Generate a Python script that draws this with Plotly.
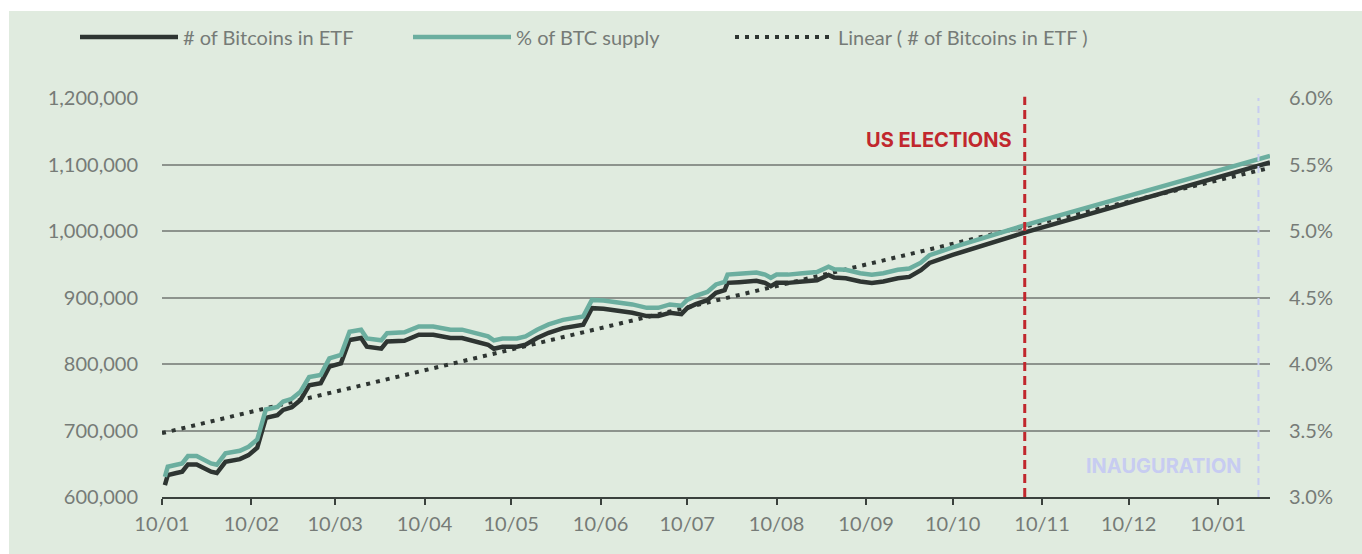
import plotly.graph_objects as go

# ---------------- data ----------------
dates = [
    "2024-01-11", "2024-01-12", "2024-01-15", "2024-01-17", "2024-01-19", "2024-01-22",
    "2024-01-27", "2024-01-29", "2024-02-01", "2024-02-06", "2024-02-09", "2024-02-12",
    "2024-02-15", "2024-02-19", "2024-02-21", "2024-02-24", "2024-02-27", "2024-03-01",
    "2024-03-05", "2024-03-08", "2024-03-12", "2024-03-15", "2024-03-19", "2024-03-21",
    "2024-03-26", "2024-03-28", "2024-04-03", "2024-04-08", "2024-04-13", "2024-04-19",
    "2024-04-23", "2024-04-28", "2024-05-02", "2024-05-04", "2024-05-07", "2024-05-12",
    "2024-05-15", "2024-05-19", "2024-05-23", "2024-05-28", "2024-06-02", "2024-06-04",
    "2024-06-07", "2024-06-11", "2024-06-16", "2024-06-21", "2024-06-26", "2024-06-30",
    "2024-07-04", "2024-07-08", "2024-07-10", "2024-07-13", "2024-07-17", "2024-07-20",
    "2024-07-23", "2024-07-24", "2024-07-28", "2024-08-03", "2024-08-06", "2024-08-08",
    "2024-08-10", "2024-08-14", "2024-08-19", "2024-08-24", "2024-08-28", "2024-08-30",
    "2024-09-03", "2024-09-08", "2024-09-12", "2024-09-16", "2024-09-21", "2024-09-25",
    "2024-09-29", "2024-10-02", "2024-10-10", "2024-11-05", "2025-01-28",
]

btc_in_etf = [
    618000, 633000, 636000, 638000, 649000, 649000,
    638000, 636000, 653000, 657000, 663000, 674000,
    719000, 723000, 731000, 735000, 746000, 768000,
    771000, 796000, 801000, 836000, 839000, 826000,
    823000, 834000, 835000, 844000, 844000, 839000,
    839000, 833000, 829000, 823000, 826000, 826000,
    829000, 839000, 847000, 854000, 857000, 859000,
    884000, 883000, 880000, 877000, 872000, 872000,
    877000, 875000, 884000, 890000, 896000, 907000,
    911000, 922000, 923000, 925000, 922000, 917000,
    922000, 922000, 924000, 926000, 934000, 930000,
    929000, 924000, 922000, 924000, 929000, 931000,
    941000, 952000, 964000, 999000, 1103000,
]

pct_btc_supply = [
    3.152, 3.228, 3.242, 3.252, 3.308, 3.308,
    3.252, 3.242, 3.328, 3.348, 3.378, 3.432,
    3.658, 3.678, 3.718, 3.738, 3.792, 3.902,
    3.918, 4.042, 4.068, 4.242, 4.258, 4.192,
    4.178, 4.232, 4.238, 4.282, 4.282, 4.258,
    4.258, 4.228, 4.208, 4.178, 4.192, 4.192,
    4.208, 4.258, 4.298, 4.332, 4.348, 4.358,
    4.482, 4.478, 4.462, 4.448, 4.422, 4.422,
    4.448, 4.438, 4.482, 4.512, 4.542, 4.598,
    4.618, 4.672, 4.678, 4.688, 4.672, 4.648,
    4.672, 4.672, 4.682, 4.692, 4.732, 4.712,
    4.708, 4.682, 4.672, 4.682, 4.708, 4.718,
    4.762, 4.818, 4.877, 5.050, 5.565,
]

trend_dates = ["2024-01-10", "2025-01-28"]
trend_values = [696000, 1095000]

tick_dates = [
    "2024-01-10", "2024-02-10", "2024-03-10", "2024-04-10", "2024-05-10", "2024-06-10",
    "2024-07-10", "2024-08-10", "2024-09-10", "2024-10-10", "2024-11-10", "2024-12-10",
    "2025-01-10",
]
tick_labels = ["10/01", "10/02", "10/03", "10/04", "10/05", "10/06", "10/07",
               "10/08", "10/09", "10/10", "10/11", "10/12", "10/01"]

y_left_ticks = [600000, 700000, 800000, 900000, 1000000, 1100000, 1200000]
y_right_ticks = [3.0, 3.5, 4.0, 4.5, 5.0, 5.5, 6.0]
y_right_labels = ["3.0%", "3.5%", "4.0%", "4.5%", "5.0%", "5.5%", "6.0%"]

election_date = "2024-11-04"
inauguration_date = "2025-01-24"
x_range = ["2024-01-10", "2025-01-28"]

# ---------------- style ----------------
BG = "#e0ebdf"
DARK = "#2e3532"
TEAL = "#6bae9f"
GRID = "#8d938d"
TXT = "#767b77"
RED = "#c1272d"
LAV = "#c7ccf1"
FONT = "Lato"
FS = 20

fig = go.Figure()
fig.add_trace(go.Scatter(
    x=dates, y=btc_in_etf, name="# of Bitcoins in ETF", mode="lines",
    line=dict(color=DARK, width=4.5), yaxis="y", legend="legend"))
fig.add_trace(go.Scatter(
    x=dates, y=pct_btc_supply, name="% of BTC supply", mode="lines",
    line=dict(color=TEAL, width=4.5), yaxis="y2", legend="legend2"))
fig.add_trace(go.Scatter(
    x=trend_dates, y=trend_values, name="Linear ( # of Bitcoins in ETF )", mode="lines",
    line=dict(color=DARK, width=4, dash="4px,6px"), yaxis="y", legend="legend3"))

L, R, T, B = 162, 92, 98, 57
W, H = 1362, 554
pw, ph = W - L - R, H - T - B

def px_x(p):
    return (p - L) / pw

def px_y(p):
    return (H - B - p) / ph

shapes = [
    dict(type="line", xref="x", yref="paper", x0=election_date, x1=election_date,
         y0=0, y1=1.003, line=dict(color=RED, width=3, dash="9px,5px"), layer="above"),
    dict(type="line", xref="x", yref="paper", x0=inauguration_date, x1=inauguration_date,
         y0=0, y1=1, line=dict(color=LAV, width=2, dash="7px,5px"), layer="above"),
    # white strips at the top and left of the picture
    dict(type="rect", xref="paper", yref="paper", x0=-0.3, x1=1.3,
         y0=px_y(11), y1=px_y(-5), fillcolor="white", line=dict(width=0), layer="above"),
    dict(type="rect", xref="paper", yref="paper", x0=px_x(-5), x1=px_x(9),
         y0=px_y(560), y1=px_y(-5), fillcolor="white", line=dict(width=0), layer="above"),
]

annotations = [
    dict(x=election_date, y=1137000, xref="x", yref="y", text="<b>US ELECTIONS</b>",
         showarrow=False, xanchor="right", yanchor="middle", xshift=-11,
         font=dict(family="Inter", size=20, color=RED)),
    dict(x=inauguration_date, y=647000, xref="x", yref="y", text="<b>INAUGURATION</b>",
         showarrow=False, xanchor="right", yanchor="middle", xshift=-14,
         font=dict(family="Inter", size=20, color=LAV)),
]

def legend_at(px):
    return dict(orientation="h", x=px_x(px), xanchor="left", y=px_y(37), yanchor="middle",
                bgcolor="rgba(0,0,0,0)", font=dict(family=FONT, size=FS, color=TXT),
                itemwidth=98)

fig.update_layout(
    width=W, height=H,
    margin=dict(l=L, r=R, t=T, b=B, pad=0),
    paper_bgcolor=BG, plot_bgcolor=BG,
    font=dict(family=FONT, size=FS, color=TXT),
    showlegend=True,
    legend=legend_at(75),
    legend2=legend_at(408),
    legend3=legend_at(730),
    hovermode=False,
    xaxis=dict(type="date", range=x_range, tickvals=tick_dates, ticktext=tick_labels,
               showgrid=False, zeroline=False, showline=True, linecolor="#3a413d", linewidth=2,
               ticks="outside", ticklen=6, tickwidth=2, tickcolor="#3a413d",
               ticklabelstandoff=2,
               tickfont=dict(family=FONT, size=FS, color=TXT)),
    yaxis=dict(range=[600000, 1200000], tickvals=y_left_ticks, tickformat=",d",
               showgrid=True, gridcolor=GRID, gridwidth=1.5, zeroline=False, showline=False,
               ticks="outside", ticklen=19, tickcolor="rgba(0,0,0,0)",
               tickfont=dict(family=FONT, size=FS, color=TXT)),
    yaxis2=dict(range=[3.0, 6.0], overlaying="y", side="right", tickvals=y_right_ticks,
                ticktext=y_right_labels, showgrid=False, zeroline=False, showline=False,
                ticks="outside", ticklen=14, tickcolor="rgba(0,0,0,0)",
                tickfont=dict(family=FONT, size=FS, color=TXT)),
    shapes=shapes,
    annotations=annotations,
)

fig.write_html("out.html", config={"displayModeBar": False},
               post_script="document.body.style.margin='0px';")
